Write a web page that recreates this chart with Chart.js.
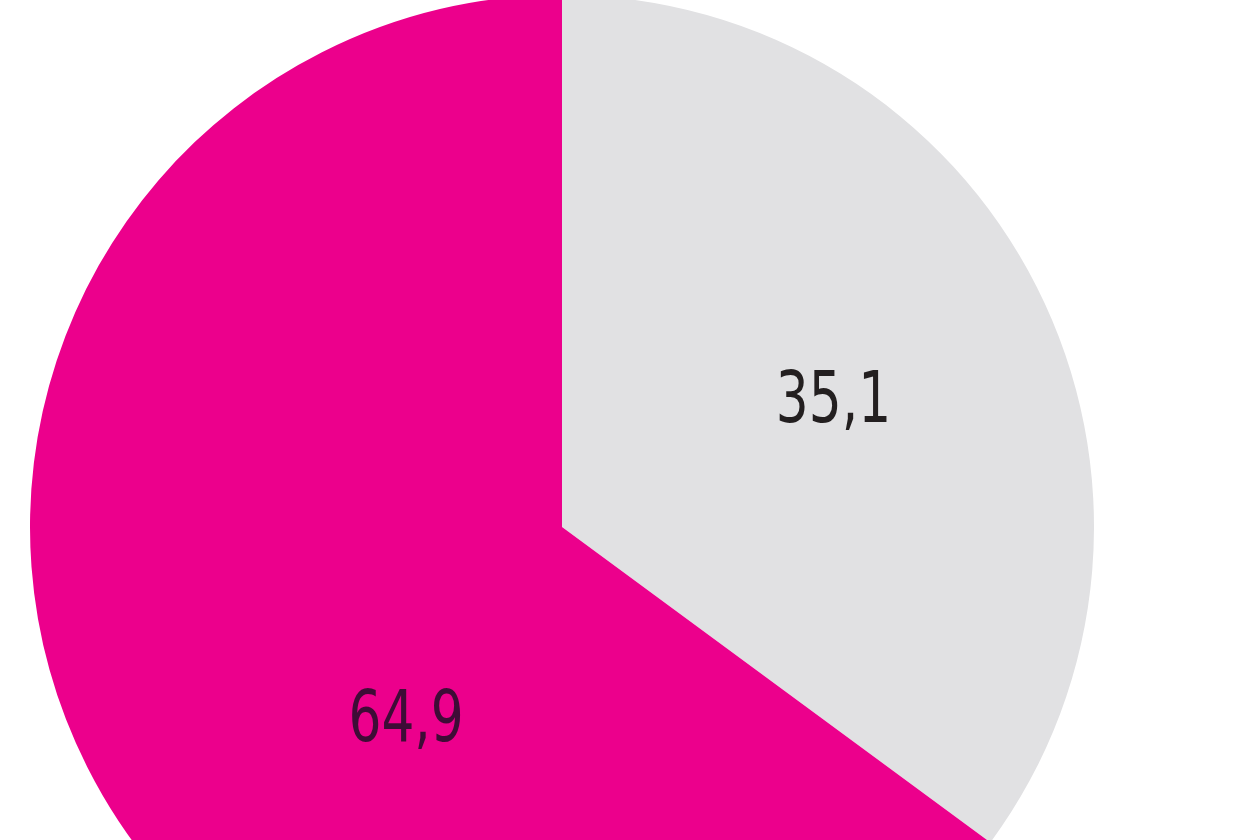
<!DOCTYPE html>
<html>
<head>
<meta charset="utf-8">
<script src="https://cdn.jsdelivr.net/npm/chart.js@4/dist/chart.umd.min.js"></script>
<style>
  html, body { margin: 0; padding: 0; width: 1260px; height: 840px; overflow: hidden; background: #ffffff; }
  #wrap { position: absolute; left: 30px; top: -5px; width: 1064px; height: 1064px; }
</style>
</head>
<body>
<div id="wrap"><canvas id="c"></canvas></div>
<script>
const categories = ['A', 'B'];
const values = [35.1, 64.9];
const valueLabels = ['35,1', '64,9'];
const colors = ['#E1E1E3', '#EC008C'];
const labelColors = ['#231F20', '#3E0C36'];

const labelPlugin = {
  id: 'sliceLabels',
  afterDatasetsDraw(chart, args, opts) {
    const ctx = chart.ctx;
    const meta = chart.getDatasetMeta(0);
    meta.data.forEach((arc, i) => {
      const p = opts.place[i];
      const mid = (arc.startAngle + arc.endAngle) / 2 + p.da * Math.PI / 180;
      const r = arc.outerRadius * p.rf;
      const x = arc.x + Math.cos(mid) * r;
      const y = arc.y + Math.sin(mid) * r;
      ctx.save();
      ctx.font = opts.size + 'px "Liberation Sans Narrow", "DejaVu Sans Condensed", "Open Sans", sans-serif';
      ctx.fillStyle = labelColors[i];
      ctx.textAlign = 'center';
      ctx.textBaseline = 'alphabetic';
      ctx.translate(x, y + opts.size * 0.365);
      ctx.scale(opts.squeeze, 1);
      ctx.fillText(valueLabels[i], 0, 0);
      ctx.restore();
    });
  }
};

new Chart(document.getElementById('c'), {
  type: 'pie',
  data: {
    labels: categories,
    datasets: [{
      data: values,
      backgroundColor: colors,
      borderWidth: 0
    }]
  },
  options: {
    responsive: true,
    maintainAspectRatio: false,
    animation: false,
    layout: { padding: 0 },
    plugins: {
      legend: { display: false },
      tooltip: { enabled: false },
      sliceLabels: {
        size: 72,
        squeeze: 0.8,
        place: [ { da: 1.0, rf: 0.567 }, { da: -23.4, rf: 0.458 } ]
      }
    }
  },
  plugins: [labelPlugin]
});
</script>
</body>
</html>
